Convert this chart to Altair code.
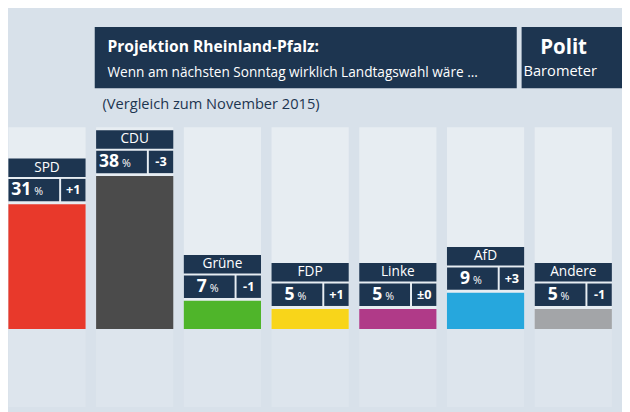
import altair as alt
import pandas as pd

parties = ["SPD", "CDU", "Grüne", "FDP", "Linke", "AfD", "Andere"]
values = [31, 38, 7, 5, 5, 9, 5]
changes = ["+1", "-3", "-1", "+1", "±0", "+3", "-1"]
colors = ["#e8392b", "#4b4b4b", "#4fb52a", "#f8d51a", "#b03a88", "#26a7dd", "#a3a5a8"]

NAVY = "#1d3550"
K = 4.13  # pixels per percentage point
M = 8     # page margin compensation
BASE = 332 - M

df = pd.DataFrame({"party": parties, "v": values, "chg": changes, "col": colors})
df["row_lo"] = df.v + 3 / K
df["row_hi"] = df.v + 26 / K
df["name_lo"] = df.v + 28 / K
df["name_hi"] = df.v + 47 / K
df["panel"] = (332 - 125) / K
df["row_mid"] = (df.row_lo + df.row_hi) / 2
df["name_mid"] = (df.name_lo + df.name_hi) / 2
df["zero"] = 0
df["refl"] = -(412 - 332) / K

xs = alt.X("party:N", sort=parties, axis=None,
           scale=alt.Scale(range=[3 - M, 633 - M], paddingInner=0.12, paddingOuter=0.06))
ys = alt.Scale(domain=[0, 100], range=[BASE, BASE - 100 * K])


def Y(f):
    return alt.Y(f"{f}:Q", scale=ys, axis=None)


base = alt.Chart(df).encode(x=xs)

panel = base.mark_bar(color="#ffffff", opacity=0.4).encode(y=Y("zero"), y2="panel")
refl = base.mark_bar(color="#ffffff", opacity=0.15).encode(y=Y("refl"), y2="zero")
bars = base.mark_bar().encode(y=Y("zero"), y2="v",
                              color=alt.Color("col:N", scale=None))
name_box = base.mark_bar(color=NAVY).encode(y=Y("name_lo"), y2="name_hi")
pct_box = base.mark_bar(color=NAVY, width=52, xOffset=-13.5).encode(y=Y("row_lo"), y2="row_hi")
chg_box = base.mark_bar(color=NAVY, width=25, xOffset=27).encode(y=Y("row_lo"), y2="row_hi")

name_txt = base.mark_text(color="white", fontSize=14, font="Open Sans", baseline="middle").encode(
    y=Y("name_mid"), text="party:N")
num_txt = base.mark_text(color="white", fontSize=18, fontWeight="bold", font="Open Sans",
                         align="right", baseline="middle", xOffset=-16).encode(
    y=Y("row_mid"), text="v:Q")
pct_txt = base.mark_text(color="white", fontSize=11, font="Open Sans", align="left",
                         baseline="middle", xOffset=-13, yOffset=2).encode(
    y=Y("row_mid"), text=alt.value("%"))
chg_txt = base.mark_text(color="white", fontSize=13, fontWeight="bold", font="Open Sans",
                         baseline="middle", xOffset=27).encode(y=Y("row_mid"), text="chg:N")

one = alt.Chart(pd.DataFrame({"a": [0]}))
header = one.mark_rect(color=NAVY).encode(x=alt.value(97 - M), x2=alt.value(530 - M),
                                          y=alt.value(22 - M), y2=alt.value(85 - M))
logo = one.mark_rect(color=NAVY).encode(x=alt.value(535 - M), x2=alt.value(640),
                                        y=alt.value(22 - M), y2=alt.value(85 - M))
t1 = one.mark_text(color="white", fontSize=16, fontWeight="bold", font="Open Sans",
                   align="left").encode(x=alt.value(110 - M), y=alt.value(43 - M),
                                        text=alt.value("Projektion Rheinland-Pfalz:"))
t2 = one.mark_text(color="white", fontSize=14, font="Open Sans", align="left").encode(
    x=alt.value(110 - M), y=alt.value(69 - M),
    text=alt.value("Wenn am nächsten Sonntag wirklich Landtagswahl wäre ..."))
l1 = one.mark_text(color="white", fontSize=21, fontWeight="bold", font="Open Sans",
                   align="left").encode(x=alt.value(554 - M), y=alt.value(44 - M), text=alt.value("Polit"))
l2 = one.mark_text(color="white", fontSize=15, font="Open Sans", align="left").encode(
    x=alt.value(537 - M), y=alt.value(67 - M), text=alt.value("Barometer"))
sub = one.mark_text(color=NAVY, fontSize=15, font="Open Sans", align="left").encode(
    x=alt.value(105 - M), y=alt.value(101 - M), text=alt.value("(Vergleich zum November 2015)"))

chart = alt.layer(
    panel, refl, bars, name_box, pct_box, chg_box, name_txt, num_txt, pct_txt, chg_txt,
    header, logo, t1, t2, l1, l2, sub
).properties(
    width=630, height=412, padding=0, autosize=alt.AutoSizeParams(type="none"),
    background="#d8e1ea"
).configure_view(stroke=None)

chart.save("out.html", embed_options={"renderer": "svg", "actions": False})
